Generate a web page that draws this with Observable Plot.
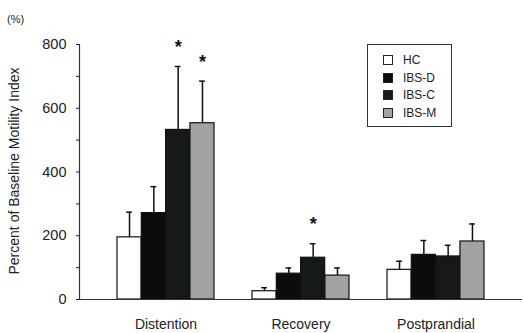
<!DOCTYPE html>
<html>
<head>
<meta charset="utf-8">
<script src="https://cdn.jsdelivr.net/npm/d3@7"></script>
<script src="https://cdn.jsdelivr.net/npm/@observablehq/plot@0.6"></script>
<style>
  body { margin: 0; background: #fff; font-family: "Liberation Sans", Arial, sans-serif; }
  #wrap { position: relative; width: 523px; height: 333px; }
  #pct { position: absolute; left: 7px; top: 13px; font-size: 11px; color: #222; }
  #legend { position: absolute; left: 367px; top: 44px; width: 85px; height: 83px; border: 1px solid #333; box-sizing: border-box; font-size: 12px; color: #222; }
  .row { position: absolute; left: 15px; display: flex; align-items: center; }
  .sw { width: 10px; height: 10px; border: 1px solid #222; box-sizing: border-box; margin-right: 10px; }
</style>
</head>
<body>
<div id="wrap">
  <div id="chart"></div>
  <div id="pct">(%)</div>
  <div id="legend"></div>
</div>
<script>
const groups = ["Distention", "Recovery", "Postprandial"];
const series = ["HC", "IBS-D", "IBS-C", "IBS-M"];
const colors = ["#ffffff", "#0c0c0c", "#161a16", "#a2a2a2"];
// mean values per series, in group order
const meanHC   = [195, 26, 93];
const meanIBSD = [271, 81, 140];
const meanIBSC = [532, 131, 135];
const meanIBSM = [553, 75, 182];
// error bar tops (mean + SE)
const errHC   = [274, 37, 120];
const errIBSD = [354, 99, 185];
const errIBSC = [731, 175, 170];
const errIBSM = [685, 99, 237];
// significance stars
const starIBSC = [true, true, false];
const starIBSM = [true, false, false];
const yTicks = [0, 200, 400, 600, 800];
const yMinor = [100, 300, 500, 700];

const means = [meanHC, meanIBSD, meanIBSC, meanIBSM];
const errs = [errHC, errIBSD, errIBSC, errIBSM];
const stars = [[false,false,false], [false,false,false], starIBSC, starIBSM];

const W = 523, H = 333, ML = 79, MR = 1, pad = 0.28;
const step = (W - ML - MR) / (groups.length - pad + 2 * pad);
const bw = step * (1 - pad);
const sub = bw / series.length;

const marks = [];
series.forEach((s, i) => {
  const data = groups.map((g, j) => ({group: g, value: means[i][j], err: errs[i][j], star: stars[i][j]}));
  const off = (i - (series.length - 1) / 2) * sub;
  marks.push(Plot.ruleX(data, {x: "group", y1: "value", y2: "err", dx: off, stroke: "#111", strokeWidth: 1.5}));
  marks.push(Plot.tickY(data, {x: "group", y: "err", dx: off, insetLeft: bw / 2 - 3, insetRight: bw / 2 - 3, stroke: "#111", strokeWidth: 1.5}));
  marks.push(Plot.barY(data, {x: "group", y: "value", insetLeft: i * sub, insetRight: (series.length - 1 - i) * sub, fill: colors[i], stroke: "#111", strokeWidth: 1.2}));
  marks.push(Plot.text(data.filter(d => d.star), {x: "group", y: "err", dx: off, dy: -19, text: () => "*", fontSize: 18, fontWeight: "bold", fill: "#111"}));
});

const chart = Plot.plot({
  width: W, height: H,
  marginLeft: ML, marginRight: MR, marginTop: 44, marginBottom: 34,
  style: {fontFamily: "Liberation Sans, Arial, sans-serif", fontSize: "14px", color: "#222", background: "#fff"},
  x: {domain: groups, padding: pad, label: null},
  y: {domain: [0, 800], label: null},
  marks: [
    Plot.axisX({tickSize: 0, tickPadding: 20, fontSize: 14}),
    Plot.axisY({ticks: yTicks, tickSize: 3, tickPadding: 10, fontSize: 14.5}),
    Plot.axisY({ticks: yMinor, tickSize: 3, tickFormat: () => ""}),
    Plot.frame({anchor: "left", stroke: "#333", strokeWidth: 1.2}),
    ...marks,
    Plot.ruleY([0], {stroke: "#333", strokeWidth: 1.2}),
    Plot.text(["Percent of Baseline Motility Index"], {frameAnchor: "left", textAnchor: "middle", dx: -65, dy: -1, rotate: -90, text: d => d, fontSize: 14})
  ]
});
document.getElementById("chart").appendChild(chart);

const leg = document.getElementById("legend");
series.forEach((s, i) => {
  const r = document.createElement("div");
  r.className = "row";
  r.style.top = (8 + i * 17.5) + "px";
  r.innerHTML = `<div class="sw" style="background:${colors[i]}"></div><span>${s}</span>`;
  leg.appendChild(r);
});
</script>
</body>
</html>
